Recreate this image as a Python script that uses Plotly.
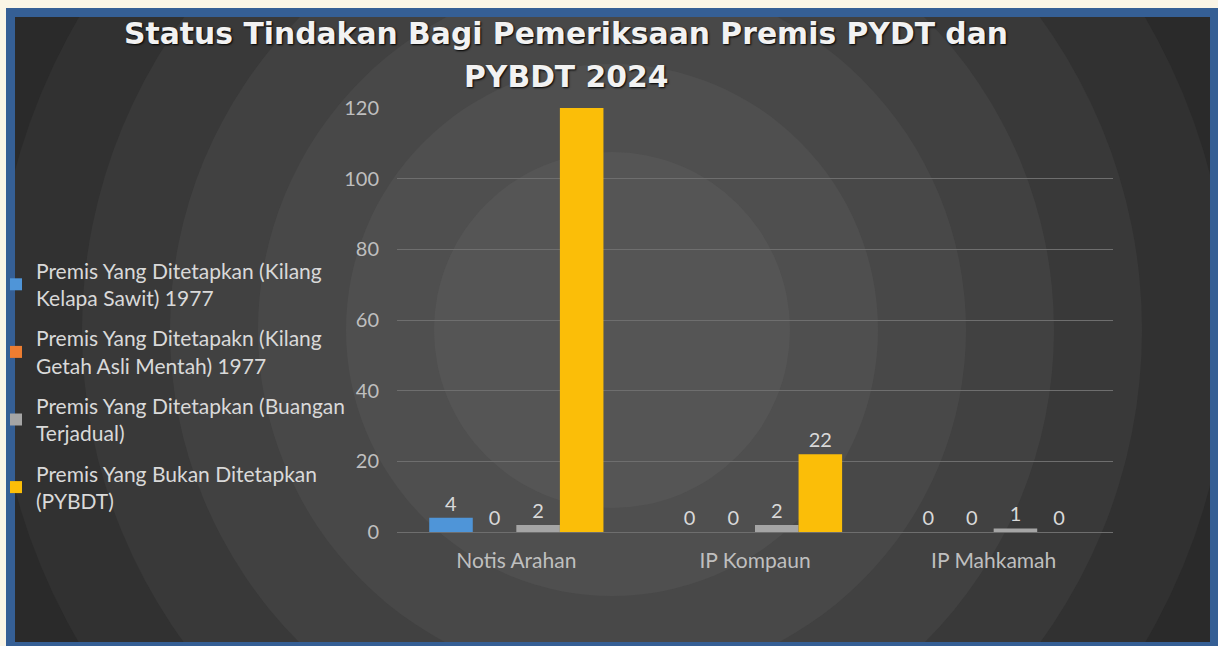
import plotly.graph_objects as go

categories = ["Notis Arahan", "IP Kompaun", "IP Mahkamah"]
series_names = [
    "Premis Yang Ditetapkan (Kilang<br>Kelapa Sawit) 1977",
    "Premis Yang Ditetapakn (Kilang<br>Getah Asli Mentah) 1977",
    "Premis Yang Ditetapkan (Buangan<br>Terjadual)",
    "Premis Yang Bukan Ditetapkan<br>(PYBDT)",
]
kelapa_sawit = [4, 0, 0]
getah_asli = [0, 0, 0]
buangan = [2, 2, 1]
pybdt = [120, 22, 0]
y_ticks = [0, 20, 40, 60, 80, 100, 120]
title_lines = ["Status Tindakan Bagi Pemeriksaan Premis PYDT dan", "PYBDT 2024"]

colors = ["#4F95D8", "#ED7D31", "#A5A5A5", "#FBBE08"]
W, H = 1218, 646
L, R, T, B = 397, 105, 108, 114
pw, ph = W - L - R, H - T - B


def px(x):
    return (x - L) / pw


def py(y):
    return (H - B - y) / ph


def rect(x0, y0, x1, y1, color, kind="rect"):
    return dict(type=kind, xref="paper", yref="paper", layer="below",
                x0=px(x0), x1=px(x1), y0=py(y1), y1=py(y0),
                fillcolor=color, line=dict(width=0))


# banded radial backdrop, then blue frame and cream page edge on top
cx, cy = 612, 330
ring_cols = ["#242424", "#2a2a2a", "#313131", "#393939", "#414141", "#484848", "#4f4f4f", "#555555"]
ring_r = [900, 706, 618, 530, 442, 354, 266, 178]
shapes = [rect(cx - r, cy - r, cx + r, cy + r, c, "circle") for r, c in zip(ring_r, ring_cols)]
shapes += [
    rect(6, 8, W, 17, "#355F95"),
    rect(6, 8, 15, H, "#355F95"),
    rect(1210, 8, W, H, "#355F95"),
    rect(6, 642, W, H, "#355F95"),
    rect(0, 0, W, 8, "#FAF5E6"),
    rect(0, 0, 6, H, "#FAF5E6"),
]

title_font = dict(family="DejaVu Sans", size=29.8, weight="bold", color="#F2F2F2",
                  shadow="1px 1px 2px #000")

fig = go.Figure()
for name, vals, col in zip(series_names, [kelapa_sawit, getah_asli, buangan, pybdt], colors):
    labels = ["" if v >= y_ticks[-1] else str(v) for v in vals]
    fig.add_trace(go.Bar(
        x=categories, y=vals, name=name, marker_color=col, marker_line_width=0,
        text=labels, textposition="outside", cliponaxis=False,
        textfont=dict(color="#D9D9D9", size=20), legendgroup=name,
    ))

fig.update_layout(
    width=W, height=H,
    margin=dict(l=L, r=R, t=T, b=B, autoexpand=False),
    paper_bgcolor="#FAF5E6", plot_bgcolor="rgba(0,0,0,0)",
    font=dict(family="Lato", color="#BFBFBF", size=20),
    barmode="group", bargap=0.27, bargroupgap=0,
    title=dict(
        text=title_lines[0],
        x=px(566), xref="paper", xanchor="center",
        y=1 - 34 / H, yref="container", yanchor="middle",
        font=title_font,
    ),
    annotations=[dict(
        text=title_lines[1], x=px(566), y=py(77), xref="paper", yref="paper",
        xanchor="center", yanchor="middle", showarrow=False, font=title_font,
    )],
    legend=dict(
        x=px(-4), xanchor="left", y=py(386), yanchor="middle",
        font=dict(color="#D9D9D9", size=21), tracegroupgap=10,
        bgcolor="rgba(0,0,0,0)", itemwidth=30,
    ),
    shapes=shapes,
    showlegend=True,
)
fig.update_xaxes(showgrid=False, showline=True, linecolor="#6E6E6E", linewidth=1,
                 ticks="", tickfont=dict(size=21, color="#BFBFBF"), ticklabelstandoff=10)
fig.update_yaxes(range=[0, y_ticks[-1]], tickvals=y_ticks, showgrid=True, gridcolor="#6E6E6E",
                 gridwidth=1, zeroline=False, showline=False, ticks="",
                 tickfont=dict(size=20, color="#BFBFBF"), ticklabelstandoff=17)

fig.write_html("out.html", config={"displayModeBar": False},
               post_script="document.body.style.margin='0';")
